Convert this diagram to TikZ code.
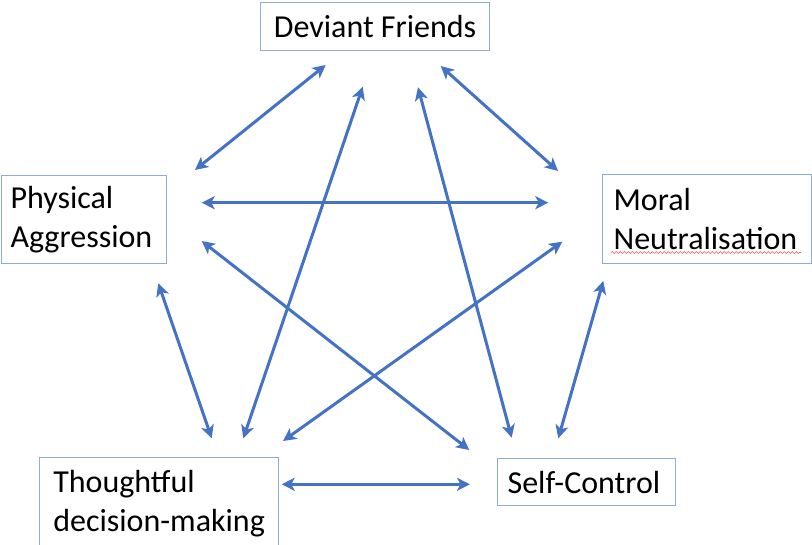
\documentclass[tikz,border=0pt]{standalone}
\usepackage{fontspec}
\setmainfont{Carlito}
\usetikzlibrary{arrows.meta,decorations.pathmorphing}
\definecolor{arrowblue}{HTML}{4472C4}
\definecolor{boxline}{HTML}{8FAADC}
\definecolor{spellred}{HTML}{E06060}
\begin{document}
\begin{tikzpicture}[x=1pt,y=-1pt,
  box/.style={draw=boxline, line width=1.2pt, anchor=north west, align=left,
    font=\fontsize{32}{38.5}\selectfont, inner ysep=0pt},
  link/.style={arrowblue, line width=3pt,
    {Stealth[length=13pt,width=13pt,inset=3.5pt]}-{Stealth[length=13pt,width=13pt,inset=3.5pt]}}]
\useasboundingbox (0,0) rectangle (812,545);
% boxes
\node[box, minimum width=229pt, minimum height=48pt, align=center] (df) at (260,2) {Deviant Friends};
\node[box, minimum width=165pt, minimum height=88pt, text width=147pt, inner xsep=9pt] (pa) at (1,175) {Physical\\Aggression};
\node[box, minimum width=209pt, minimum height=89pt, text width=187pt, inner xsep=11pt] (mn) at (602,174) {Moral\\Neutralisation};
\node[box, minimum width=239pt, minimum height=92pt] (td) at (39,457) {Thoughtful\\\mbox{decision-making}};
\node[box, minimum width=178pt, minimum height=47pt, text width=158pt, inner xsep=10pt] (sc) at (497,458) {Self-Control};
% spell-check underline
\draw[spellred, line width=0.6pt, decorate, decoration={snake, segment length=4pt, amplitude=0.9pt}] (611,252.5) -- (801,252.5);
% arrow end points
\coordinate (dfpa1) at (325.7,65);   \coordinate (dfpa2) at (195,170);
\coordinate (dftd1) at (362.7,86.7); \coordinate (dftd2) at (243.3,438.3);
\coordinate (dfsc1) at (418,87.3);   \coordinate (dfsc2) at (511.7,437.7);
\coordinate (dfmn1) at (440.7,66);   \coordinate (dfmn2) at (558,171);
\coordinate (pamn1) at (201.7,202.7); \coordinate (pamn2) at (548.3,202.7);
\coordinate (pasc1) at (201.7,241);  \coordinate (pasc2) at (469.3,450);
\coordinate (patd1) at (158.3,283.3); \coordinate (patd2) at (211.7,438.3);
\coordinate (mntd1) at (562.3,241.7); \coordinate (mntd2) at (283,441);
\coordinate (mnsc1) at (603.3,281);  \coordinate (mnsc2) at (558.3,438.3);
\coordinate (tdsc1) at (281.7,484.3); \coordinate (tdsc2) at (470,484.3);
% connectors
\draw[link] (dfpa1) -- (dfpa2);
\draw[link] (dftd1) -- (dftd2);
\draw[link] (dfsc1) -- (dfsc2);
\draw[link] (dfmn1) -- (dfmn2);
\draw[link] (pamn1) -- (pamn2);
\draw[link] (pasc1) -- (pasc2);
\draw[link] (patd1) -- (patd2);
\draw[link] (mntd1) -- (mntd2);
\draw[link] (mnsc1) -- (mnsc2);
\draw[link] (tdsc1) -- (tdsc2);
\end{tikzpicture}
\end{document}
